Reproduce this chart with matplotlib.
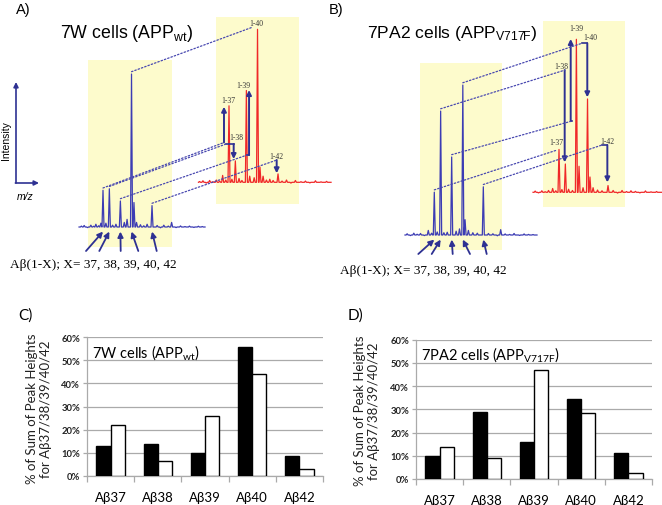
import matplotlib.pyplot as plt
from matplotlib.patches import Rectangle, ConnectionPatch
import numpy as np

W, H = 662, 506

# Abeta(1-X) peaks, X = 37, 38, 39, 40, 42
peak_mz = [4074, 4131, 4230, 4330, 4514]
peak_names = ["1-37", "1-38", "1-39", "1-40", "1-42"]

# relative peak heights (% of base peak)
a_blue = [24, 25, 17, 100, 14]
a_red = [50, 14, 60, 100, 5.5]
b_blue = [28, 81, 51, 98, 31.5]
b_red = [28, 18.5, 100, 61, 4.4]

# minor peaks and baseline noise (m/z, height)
a_blue_minor_mz = [3880, 3905, 3935, 3965, 3990, 4010, 4035, 4055, 4100, 4160, 4190, 4265, 4290, 4352,
                   4375, 4410, 4440, 4470, 4560, 4590, 4620, 4660, 4690, 4730, 4770, 4810, 4850, 4890, 4930, 4965]
a_blue_minor_h = [0.6, 1.0, -0.4, 1.2, 0.5, 1.8, 0.8, 2.5, 2.5, 1.2, 1.8, 3.0, 5.0, 16.0,
                  3.0, 1.5, 0.8, 1.8, 1.0, -0.5, 1.2, 0.6, 3.0, -0.4, 0.7, 0.3, 0.6, -0.3, 0.5, 0.3]
a_red_minor_mz = [3810, 3840, 3870, 3900, 3930, 3960, 3990, 4017, 4045, 4100, 4164, 4190, 4260, 4300, 4352,
                  4380, 4410, 4440, 4470, 4550, 4590, 4630, 4670, 4720, 4760, 4800, 4850, 4900, 4950]
a_red_minor_h = [0.5, 1.0, -0.5, 1.2, 0.4, 1.5, 0.8, 4.5, 1.5, 2.0, 2.5, 1.2, 4.0, 3.0, 10.0,
                 4.0, 1.5, 2.0, 1.2, 0.8, 1.5, -0.5, 1.2, 0.4, 0.8, -0.4, 1.0, 0.3, 0.6]
b_blue_minor_mz = [3830, 3860, 3890, 3920, 3950, 3985, 4020, 4050, 4100, 4160, 4190, 4270, 4300, 4350,
                   4380, 4420, 4460, 4560, 4600, 4640, 4670, 4710, 4750, 4790, 4840, 4880, 4920, 4960]
b_blue_minor_h = [0.8, -0.4, 1.2, 0.5, 1.0, -0.4, 3.0, 1.2, 2.0, 1.5, 1.8, 2.5, 4.0, 10.0,
                  3.0, 1.5, 1.2, 1.0, 0.8, -0.5, 3.5, 0.7, 0.4, 1.0, -0.3, 0.7, 0.4, 0.3]
b_red_minor_mz = [3860, 3890, 3920, 3950, 3980, 4017, 4045, 4100, 4160, 4195, 4254, 4290, 4352,
                  4380, 4420, 4460, 4560, 4600, 4640, 4680, 4720, 4760, 4800, 4850, 4900, 4950]
b_red_minor_h = [0.8, -0.4, 1.0, 0.4, 1.2, 2.5, 1.0, 1.8, 2.0, 1.2, 17.0, 3.0, 10.0,
                 3.0, 1.5, 1.0, 1.2, -0.5, 1.2, 0.5, 1.0, 0.6, -0.4, 0.9, 0.3, 0.5]

# red-spectrum annotations: dashed-line ends, arrows, labels (m/z, intensity)
a_link_mz = [4029, 4047, 4236, 4289, 4505]
a_link_int = [26, 25, 17.8, 101.5, 14.6]
a_arrow_mz = [4029, 4116, 4254, np.nan, 4502]
a_arrow_to = [49.4, 15.2, 60.3, np.nan, 5.9]
a_label_mz = [4071, 4143, 4202, 4323, 4496]
a_label_int = [54, 29.4, 63.6, 104.1, 17.4]

b_link_mz = [4056, 4128, 4191, 4280, 4460]
b_link_int = [27.6, 79.9, 46.6, 97.4, 30.9]
b_arrow_mz = [np.nan, 4125, 4179, 4328, 4508]
b_arrow_to = [np.nan, 19.6, 100.2, 62.1, 6.5]
b_label_mz = [4047, 4098, 4227, 4352, 4508]
b_label_int = [32.7, 82.7, 107.4, 101.3, 33.7]

# bar charts: % of sum of peak heights
cats = ["Aβ37", "Aβ38", "Aβ39", "Aβ40", "Aβ42"]
c_black = [12.9, 13.9, 9.8, 56.0, 8.7]
c_white = [21.9, 6.2, 26.0, 44.0, 3.1]
d_black = [10.1, 28.7, 16.1, 34.5, 11.3]
d_white = [13.9, 9.1, 47.1, 28.3, 2.6]

SANS = ["Liberation Sans", "DejaVu Sans"]
CAL = ["Lato", "DejaVu Sans"]
SERIF = ["Liberation Serif", "DejaVu Serif"]
BLUE = "#3c3cb4"
RED = "#f02828"
NAVY = "#2e3192"
DOT = "#4848b0"
YELLOW = "#fdfbcc"
GRID = "#aaaaaa"

fig = plt.figure(figsize=(W / 100, H / 100), dpi=100)


def px_axes(left, top, right, bottom, **kw):
    return fig.add_axes([left / W, 1 - bottom / H, (right - left) / W, (bottom - top) / H], **kw)


bg = fig.add_axes([0, 0, 1, 1], zorder=-1)
bg.set_xlim(0, W)
bg.set_ylim(H, 0)
bg.axis("off")

# ---------- top panels: spectra ----------
MZ0, MZ1 = 3780, 5000
I0, I1 = -5, 110
PX_DA = 0.1114
PX_INT = 1.53


def spec_axes(x37, base):
    left = x37 - (peak_mz[0] - MZ0) * PX_DA
    right = left + (MZ1 - MZ0) * PX_DA
    bottom = base - I0 * PX_INT
    top = bottom - (I1 - I0) * PX_INT
    ax = px_axes(left, top, right, bottom)
    ax.set_xlim(MZ0, MZ1)
    ax.set_ylim(I0, I1)
    ax.axis("off")
    return ax


def draw_trace(ax, start, stop, heights, minor_mz, minor_h, color, w=9):
    pts = sorted(list(zip(peak_mz, heights)) + list(zip(minor_mz, minor_h)))
    xs, ys = [start], [0]
    for m, h in pts:
        xs += [m - w, m, m + w]
        ys += [0, h, 0]
    xs.append(stop)
    ys.append(0)
    ax.plot(xs, ys, color=color, lw=0.9, clip_on=False)


def spectra_panel(blue_pos, red_pos, blue_span, red_span, blue_h, red_h, blue_minor, red_minor,
                  link_mz, link_int, arrow_mz, arrow_to, label_mz, label_int, tails):
    ab = spec_axes(*blue_pos)
    ar = spec_axes(*red_pos)
    draw_trace(ab, blue_span[0], blue_span[1], blue_h, blue_minor[0], blue_minor[1], BLUE)
    draw_trace(ar, red_span[0], red_span[1], red_h, red_minor[0], red_minor[1], RED)
    for k in range(len(peak_mz)):
        con = ConnectionPatch(xyA=(peak_mz[k], blue_h[k] + 1.5), coordsA=ab.transData,
                              xyB=(link_mz[k], link_int[k]), coordsB=ar.transData,
                              color=DOT, lw=0.9, linestyle=(0, (1.2, 1.6)))
        fig.add_artist(con)
        if not np.isnan(arrow_mz[k]):
            ar.plot([link_mz[k], arrow_mz[k]], [link_int[k], link_int[k]], color=NAVY, lw=1.2, clip_on=False)
            ar.annotate("", xy=(arrow_mz[k], arrow_to[k]), xytext=(arrow_mz[k], link_int[k]),
                        annotation_clip=False,
                        arrowprops=dict(arrowstyle="-|>", color=NAVY, lw=1.4, mutation_scale=7,
                                        shrinkA=0, shrinkB=0))
        ar.text(label_mz[k], label_int[k], peak_names[k], fontsize=5.5, family=SERIF, color="#333333",
                ha="center", va="center", clip_on=False)
        bg.annotate("", xy=(peak_mz[k], -3), xycoords=ab.transData, xytext=tails[k], textcoords=bg.transData,
                    arrowprops=dict(arrowstyle="-|>", color=NAVY, lw=1.3, mutation_scale=8, shrinkA=0, shrinkB=0))


# yellow highlight boxes
for (x0, y0, x1, y1) in [(88, 61, 172, 248), (216, 18, 299, 205), (420, 64, 502, 251), (543, 22, 625, 208)]:
    bg.add_patch(Rectangle((x0, y0), x1 - x0, y1 - y0, facecolor=YELLOW, edgecolor="none"))

spectra_panel((103, 228), (229, 183.3), (3859, 4990), (3800, 4990), a_blue, a_red,
              (a_blue_minor_mz, a_blue_minor_h), (a_red_minor_mz, a_red_minor_h),
              a_link_mz, a_link_int, a_arrow_mz, a_arrow_to, a_label_mz, a_label_int,
              [(86, 252), (99.3, 252), (120.7, 252), (138.3, 252), (156.7, 252)])
spectra_panel((434.3, 236), (559, 193.3), (3811, 4996), (3841, 5000), b_blue, b_red,
              (b_blue_minor_mz, b_blue_minor_h), (b_red_minor_mz, b_red_minor_h),
              b_link_mz, b_link_int, b_arrow_mz, b_arrow_to, b_label_mz, b_label_int,
              [(418.3, 255), (431.7, 255), (452.7, 255), (470, 255), (486.7, 255)])

# titles and labels of the top panels
bg.text(16, 10, "A)", fontsize=10.5, family=SANS, va="center")
bg.text(329, 10, "B)", fontsize=10.5, family=SANS, va="center")
bg.text(60, 33, r"7W cells (APP$\mathregular{_{wt}}$)", fontsize=12.8, family=SANS, va="center")
bg.text(367, 33, r"7PA2 cells (APP$\mathregular{_{V717F}}$)", fontsize=12.6, family=SANS, va="center")
bg.text(10, 265, "Aβ(1-X); X= 37, 38, 39, 40, 42", fontsize=9.5, family=SERIF, va="center")
bg.text(340, 271, "Aβ(1-X); X= 37, 38, 39, 40, 42", fontsize=9.5, family=SERIF, va="center")

# intensity / m/z key
bg.annotate("", xy=(16, 83), xytext=(16, 184),
            arrowprops=dict(arrowstyle="-|>", color=NAVY, lw=1.2, mutation_scale=7, shrinkA=0, shrinkB=0))
bg.annotate("", xy=(39, 184), xytext=(15.4, 184),
            arrowprops=dict(arrowstyle="-|>", color=NAVY, lw=1.2, mutation_scale=7, shrinkA=0, shrinkB=0))
bg.text(6, 141, "Intensity", rotation=90, fontsize=7.5, family=SANS, ha="center", va="center")
bg.text(25, 197, "m/z", fontsize=7.5, family=SANS, style="italic", ha="center", va="center")


# ---------- bottom panels: bar charts ----------
def bar_panel(box, black, white, title, letter_xy, ylab_xy):
    ax = px_axes(*box)
    x = np.arange(len(cats))
    ax.bar(x - 0.15, black, 0.3, color="black", edgecolor="black", lw=1.0, zorder=3)
    ax.bar(x + 0.15, white, 0.3, color="white", edgecolor="black", lw=1.0, zorder=3)
    ax.set_xlim(-0.5, len(cats) - 0.5)
    ax.set_ylim(0, 60)
    ax.set_yticks(range(0, 61, 10))
    ax.set_yticklabels([f"{v}%" for v in range(0, 61, 10)], fontsize=6.8, fontweight="bold",
                       family=CAL, color="#222222")
    ax.yaxis.grid(True, color=GRID, lw=0.9)
    ax.set_axisbelow(True)
    for s in ["top", "right"]:
        ax.spines[s].set_visible(False)
    for s in ["left", "bottom"]:
        ax.spines[s].set_color(GRID)
        ax.spines[s].set_linewidth(0.9)
    ax.set_xticks(x)
    ax.set_xticklabels(cats, fontsize=9.5, family=CAL)
    ax.set_xticks(np.arange(-0.5, len(cats)), minor=True)
    ax.tick_params(axis="x", which="major", length=0, pad=11)
    ax.tick_params(axis="x", which="minor", length=4, color=GRID, width=0.9)
    ax.tick_params(axis="y", length=3, color=GRID, width=0.9, pad=2)
    ax.text(0.022, 0.9, title, transform=ax.transAxes, fontsize=10.5, family=CAL, va="center")
    bg.text(*letter_xy, fontsize=11, family=CAL, va="center")
    bg.text(ylab_xy[0], ylab_xy[1], "% of Sum of Peak Heights\nfor Aβ37/38/39/40/42", rotation=90,
            fontsize=9.5, family=CAL, ha="center", va="center", multialignment="center", color="#222222")


bar_panel((87, 338.3, 323, 476.7), c_black, c_white, r"7W cells (APP$\mathregular{_{wt}}$)",
          (18, 316, "C)"), (39, 409))
bar_panel((416, 340.7, 652, 480), d_black, d_white, r"7PA2 cells (APP$\mathregular{_{V717F}}$)",
          (348, 316, "D)"), (367.5, 411))

fig.savefig("out.png", dpi=100)
